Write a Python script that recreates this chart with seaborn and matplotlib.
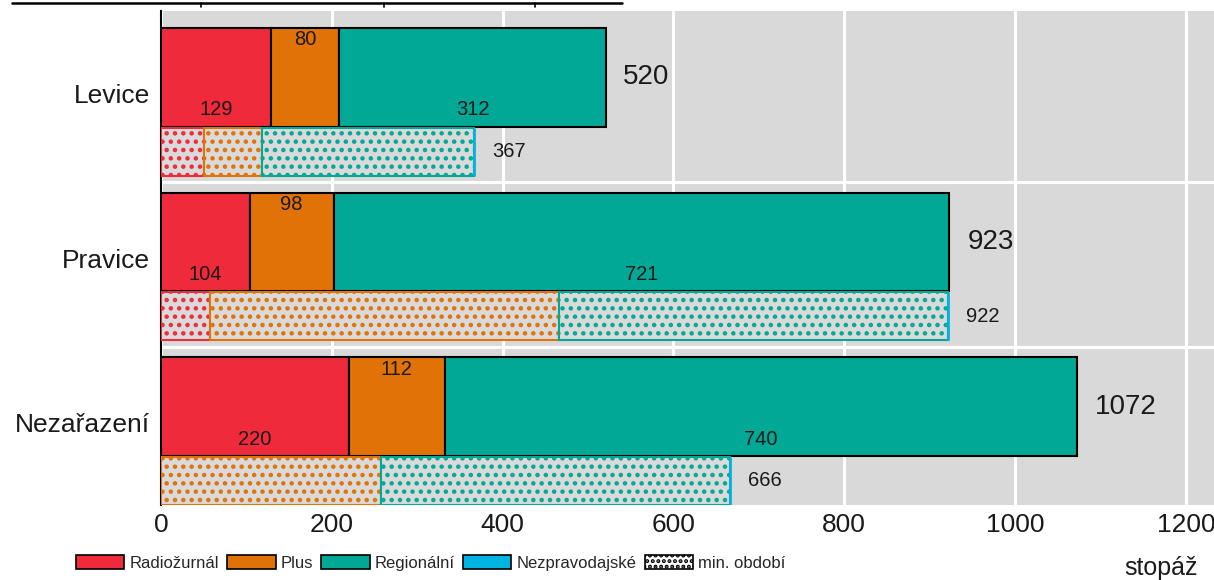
import numpy as np
import seaborn as sns
import matplotlib
matplotlib.use("Agg")
import matplotlib.pyplot as plt
from matplotlib.patches import Patch
from matplotlib.lines import Line2D

# data
categories = ['Levice', 'Pravice', 'Nezařazení']
series = ['Radiožurnál', 'Plus', 'Regionální', 'Nezpravodajské']
main_radiozurnal = [129, 104, 220]
main_plus = [80, 98, 112]
main_regionalni = [312, 721, 740]
main_nezprav = [0, 0, 0]
main_totals = [520, 923, 1072]
min_radiozurnal = [50, 57, 0]
min_plus = [68, 409, 258]
min_regionalni = [249, 456, 408]
min_nezprav = [0, 0, 0]
min_totals = [367, 922, 666]
x_ticks = [0, 200, 400, 600, 800, 1000, 1200]

colors = ['#ee2a3b', '#e07207', '#00a895', '#00b3e0']

sns.set_style('darkgrid', {'axes.facecolor': '#d9d9d9', 'grid.color': 'white'})
plt.rcParams['font.family'] = ['Liberation Sans', 'DejaVu Sans']
plt.rcParams['hatch.linewidth'] = 2.0

fig = plt.figure(figsize=(12.14, 5.8), dpi=100)
ax = fig.add_axes([161 / 1214, 75 / 580, 1053 / 1214, 494 / 580])

y = np.arange(len(categories))
main_y = y - 0.097
min_y = y + 0.354
main_h = 0.6
min_h = 0.29

main_series = [main_radiozurnal, main_plus, main_regionalni, main_nezprav]
min_series = [min_radiozurnal, min_plus, min_regionalni, min_nezprav]

# main bars
left = np.zeros(len(categories))
for k, vals in enumerate(main_series):
    vals = np.array(vals, dtype=float)
    for i in range(len(categories)):
        if vals[i] > 0:
            ax.barh(main_y[i], vals[i], left=left[i], height=main_h,
                    color=colors[k], edgecolor='black', linewidth=1.5, zorder=3)
            # Plus label on top, others at the bottom
            ty = y[i] - 0.324 if k == 1 else y[i] + 0.1
            ax.text(left[i] + vals[i] / 2, ty, f'{int(vals[i])}', ha='center', va='center',
                    fontsize=14.5, color='#1a1a1a', zorder=4)
    left += vals

# min. období bars (hatched)
left = np.zeros(len(categories))
for k, vals in enumerate(min_series):
    vals = np.array(vals, dtype=float)
    for i in range(len(categories)):
        if vals[i] > 0 or k == 3:
            ax.barh(min_y[i], vals[i], left=left[i], height=min_h,
                    facecolor='#dadada', edgecolor=colors[k], hatch='..',
                    linewidth=2.0 if k == 3 else 1.5, zorder=3 + k * 0.1)
    left += vals

# totals
for i in range(len(categories)):
    ax.annotate(f'{main_totals[i]}', (main_totals[i], main_y[i]), xytext=(13, 0),
                textcoords='offset points', ha='left', va='center', fontsize=20, color='#1a1a1a')
    ax.annotate(f'{min_totals[i]}', (min_totals[i], min_y[i]), xytext=(13, 0),
                textcoords='offset points', ha='left', va='center', fontsize=14.5, color='#1a1a1a')

ax.set_xlim(0, 1233)
ax.set_ylim(2.5, -0.5)
ax.set_xticks(x_ticks)
ax.set_xticklabels([str(t) for t in x_ticks], fontsize=19, color='#1a1a1a')
ax.set_yticks(y)
ax.set_yticklabels(categories, fontsize=19, color='#1a1a1a')
ax.set_yticks(y[:-1] + 0.54, minor=True)
ax.tick_params(axis='x', length=0, pad=6)
ax.tick_params(axis='y', which='both', length=0, pad=8)
ax.grid(False)
ax.grid(True, axis='x', which='major', color='white', linewidth=2.2, zorder=0)
ax.grid(True, axis='y', which='minor', color='white', linewidth=2.2, zorder=0)
ax.set_axisbelow(True)
for s in ['top', 'right', 'bottom']:
    ax.spines[s].set_visible(False)
ax.spines['left'].set_visible(True)
ax.spines['left'].set_color('black')
ax.spines['left'].set_linewidth(1.5)

fig.text(1161 / 1214, 12 / 580, 'stopáž', ha='center', va='center', fontsize=18, color='#1a1a1a')

# legend
handles = [Patch(facecolor=c, edgecolor='black', linewidth=1.2) for c in colors]
handles.append(Patch(facecolor='white', edgecolor='black', hatch='...', linewidth=1.2))
labels = series + ['min. období']
fig.legend(handles, labels, loc='center left', bbox_to_anchor=(76 / 1214, 17 / 580),
           ncol=5, frameon=False, fontsize=12, handlelength=2.9, handleheight=0.95,
           handletextpad=0.3, columnspacing=0.5, borderaxespad=0, borderpad=0)

# cut-off rule at the very top
fig.add_artist(Line2D([12 / 1214, 622 / 1214], [1 - 3 / 580, 1 - 3 / 580],
                      color='black', linewidth=1.8))
for tx in [201, 384, 535]:
    fig.add_artist(Line2D([tx / 1214, tx / 1214], [1 - 3 / 580, 1 - 7 / 580],
                          color='black', linewidth=1.2))

fig.savefig('out.png', dpi=100)
